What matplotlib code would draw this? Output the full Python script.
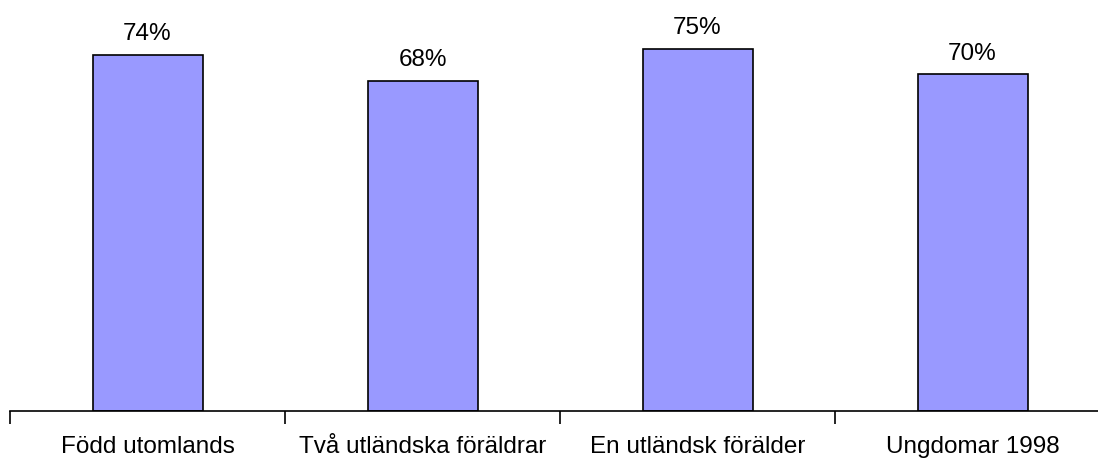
import matplotlib.pyplot as plt
import numpy as np

categories = ["Född utomlands", "Två utländska föräldrar", "En utländsk förälder", "Ungdomar 1998"]
values = [73.8, 68.4, 75.0, 69.7]

plt.rcParams['font.family'] = ['Liberation Sans', 'DejaVu Sans']

fig = plt.figure(figsize=(10.98, 4.62), dpi=100)
# axes spans 4 categories of 275 px, starting at x=10, baseline at y=411
ax = fig.add_axes([10 / 1098, 51 / 462, 1100 / 1098, 384 / 462])

x = np.arange(len(categories)) + 0.5
bars = ax.bar(x, values, width=0.4, color="#9999ff", edgecolor="black", linewidth=1.2)

for xi, v in zip(x, values):
    ax.text(xi, v + 2.0, f"{round(v)}%", ha="center", va="bottom", fontsize=17.5)

ax.set_xlim(0, 4)
ax.set_ylim(0, 79.5)

ax.set_xticks(x)
ax.set_xticklabels(categories, fontsize=17.5)
ax.tick_params(axis="x", which="major", length=0, pad=18)
ax.set_xticks(np.arange(0, 5), minor=True)
ax.tick_params(axis="x", which="minor", length=9, width=1.2, direction="out")
ax.set_yticks([])

for s in ["top", "right", "left"]:
    ax.spines[s].set_visible(False)
ax.spines["bottom"].set_linewidth(1.2)

fig.savefig("out.png", dpi=100)
